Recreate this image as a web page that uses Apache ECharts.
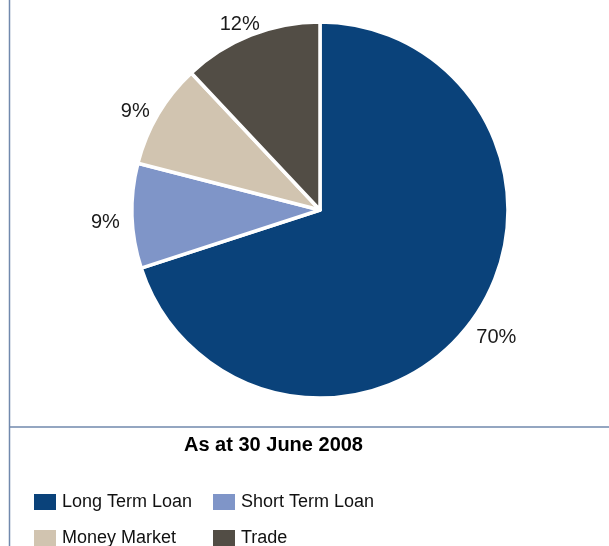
<!DOCTYPE html>
<html>
<head>
<meta charset="utf-8">
<script src="https://cdn.jsdelivr.net/npm/echarts@6/dist/echarts.min.js"></script>
<style>html,body{margin:0;padding:0;background:#fff;}#chart{width:609px;height:546px;}</style>
</head>
<body>
<div id="chart"></div>
<script>
var categories = ['Long Term Loan', 'Short Term Loan', 'Money Market', 'Trade'];
var values = [70, 9, 9, 12];
var colors = ['#0a427a', '#7f95c8', '#d1c4b0', '#524d45'];
var titleText = 'As at 30 June 2008';

var chart = echarts.init(document.getElementById('chart'), null, {renderer: 'canvas'});
var font = '"Liberation Sans", Arial, Helvetica, sans-serif';
var lineColor = '#7189ad';
var CX = 320, CY = 210, RADIUS = 188, LABEL_R = 206, LABEL_DY = 6;

var total = values.reduce(function (a, b) { return a + b; }, 0);
function midAngle(i) {
  var before = 0;
  for (var k = 0; k < i; k++) before += values[k];
  return (before + values[i] / 2) / total * Math.PI * 2;
}

var legendBase = {
  orient: 'vertical',
  top: 492,
  height: 80,
  padding: 0,
  itemWidth: 24,
  itemHeight: 18,
  itemGap: 16,
  icon: 'rect',
  selectedMode: false,
  textStyle: {fontFamily: font, fontSize: 18, color: '#111'}
};

chart.setOption({
  animation: false,
  color: colors,
  title: {
    text: titleText,
    left: 184,
    top: 435,
    padding: 0,
    textStyle: {fontFamily: font, fontSize: 20, fontWeight: 900, color: '#000'}
  },
  legend: [
    Object.assign({}, legendBase, {left: 32, data: [categories[0], categories[2]]}),
    Object.assign({}, legendBase, {left: 211, data: [categories[1], categories[3]]})
  ],
  graphic: [
    {type: 'line', shape: {x1: 9.5, y1: 0, x2: 9.5, y2: 546}, style: {stroke: lineColor, lineWidth: 1.5}},
    {type: 'line', shape: {x1: 9.5, y1: 427, x2: 609, y2: 427}, style: {stroke: lineColor, lineWidth: 1.5}}
  ],
  series: [{
    type: 'pie',
    center: [CX, CY],
    radius: RADIUS,
    startAngle: 90,
    clockwise: true,
    avoidLabelOverlap: false,
    itemStyle: {borderColor: '#fff', borderWidth: 3.5},
    label: {
      show: true,
      position: 'outside',
      formatter: function (p) { return Math.round(p.percent) + '%'; },
      fontFamily: font,
      fontSize: 20,
      color: '#1a1a1a'
    },
    labelLine: {show: false},
    labelLayout: function (p) {
      var a = midAngle(p.dataIndex);
      var hw = p.labelRect ? p.labelRect.width / 2 : 10;
      return {
        x: CX + LABEL_R * Math.sin(a) + 0.6 * Math.sin(a) * hw,
        y: CY - LABEL_R * Math.cos(a) + LABEL_DY,
        align: 'center',
        verticalAlign: 'middle'
      };
    },
    emphasis: {disabled: true},
    data: categories.map(function (c, i) { return {name: c, value: values[i]}; })
  }]
});
</script>
</body>
</html>
